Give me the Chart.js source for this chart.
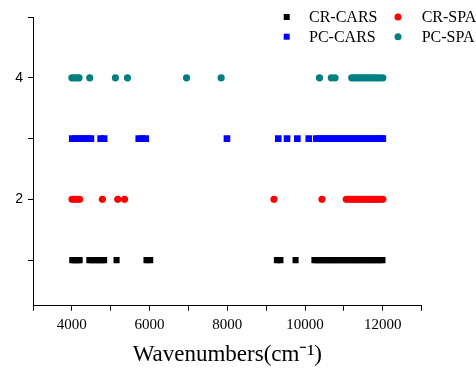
<!DOCTYPE html>
<html>
<head>
<meta charset="utf-8">
<script src="https://cdn.jsdelivr.net/npm/chart.js@4.4.1/dist/chart.umd.min.js"></script>
<style>
  html, body { margin:0; padding:0; background:#fff; }
  #wrap { width:476px; height:370px; position:relative; }
</style>
</head>
<body>
<div id="wrap"><canvas id="chart" width="476" height="370"></canvas></div>
<script>
// wavenumbers (cm-1) picked by each method
const crCars = [4010, 4080, 4150, 4200,
  4450, 4530, 4610, 4690, 4770, 4830,
  5150, 5920, 6015, 9275, 9365, 9755,
  10240, 10320, 10400, 10480, 10560, 10640, 10720, 10800, 10880, 10960,
  11040, 11120, 11200, 11280, 11360, 11440, 11520, 11600, 11680, 11760,
  11840, 11920, 11990];
const crSpa = [4005, 4070, 4140, 4200,
  4785, 5180, 5355, 9200, 10435,
  11060, 11140, 11200, 11260, 11320, 11380, 11440, 11500, 11560, 11620,
  11680, 11740, 11800, 11860, 11920, 12000];
const pcCars = [4010, 4090, 4170, 4250, 4330, 4410, 4490,
  4740, 4830, 5720, 5810, 5900, 7990, 9310, 9535, 9800, 10095,
  10290, 10370, 10450, 10530, 10610, 10690, 10770, 10850, 10930, 11010,
  11090, 11170, 11250, 11330, 11410, 11490, 11570, 11650, 11730, 11810,
  11890, 11960, 12000];
const pcSpa = [4000, 4060, 4120, 4185,
  4460, 5120, 5430, 6950, 7840, 10370, 10675, 10770,
  11200, 11260, 11320, 11380, 11440, 11500, 11560, 11620, 11680, 11740,
  11800, 11860, 11920, 12000];

const labels = ['CR-CARS', 'CR-SPA', 'PC-CARS', 'PC-SPA'];
const levels = [1, 2, 3, 4];
const colors = ['#000000', '#ff0000', '#0000ff', '#008080'];
const yTicks = [1, 2, 3, 4, 5];

const toPts = (arr, y) => arr.map(v => ({x: v, y: y}));

// legend drawn by hand so it can sit over the plot like the original
const legendPlugin = {
  id: 'cornerLegend',
  afterDraw(chart){
    const ctx = chart.ctx;
    const cols = [286.7, 398], txt = [309, 421.7], rows = [17, 36.7];
    ctx.save();
    ctx.font = '16px "Liberation Serif", "Times New Roman", serif';
    ctx.textBaseline = 'middle';
    ctx.fillStyle = '#000';
    chart.data.datasets.forEach((ds, i) => {
      const cx = cols[i % 2], cy = rows[Math.floor(i / 2)];
      ctx.fillStyle = ds.backgroundColor;
      ctx.beginPath();
      if (ds.pointStyle === 'rect') ctx.rect(cx - 3, cy - 3, 6, 6);
      else ctx.arc(cx, cy, 3.5, 0, Math.PI * 2);
      ctx.fill();
      ctx.fillStyle = '#000';
      ctx.fillText(ds.label, txt[i % 2], cy + 1);
    });
    ctx.restore();
  }
};

const series = [crCars, crSpa, pcCars, pcSpa];
const datasets = series.map((arr, i) => ({
  label: labels[i],
  data: toPts(arr, levels[i]),
  backgroundColor: colors[i],
  borderColor: colors[i],
  borderWidth: 0,
  pointStyle: i % 2 === 0 ? 'rect' : 'circle',
  pointRadius: i === 0 ? 4.3 : (i === 2 ? 4.7 : 3.6),
  pointHoverRadius: 4,
  showLine: false
}));

new Chart(document.getElementById('chart').getContext('2d'), {
  type: 'scatter',
  data: { datasets: datasets },
  options: {
    responsive: false, animation: false,
    layout: { padding: { left: 0, top: 17, right: 54.3, bottom: 0 } },
    plugins: { legend: { display: false }, tooltip: { enabled: false } },
    scales: {
      x: {
        type: 'linear', min: 3000, max: 13000, position: 'bottom',
        afterFit: s => { s.height = 64.3; },
        ticks: {
          stepSize: 1000, autoSkip: false, maxRotation: 0, padding: 5, color: '#000',
          font: { family: '"Liberation Serif", "Times New Roman", serif', size: 15 },
          callback: v => (v % 2000 === 0 ? String(v) : '')
        },
        grid: { drawOnChartArea: false, drawTicks: true, tickLength: 5, color: '#000' },
        border: { display: true, color: '#000', width: 1 },
        title: {
          display: true, text: 'Wavenumbers(cm⁻¹)', color: '#000',
          font: { family: '"Liberation Serif", "Times New Roman", serif', size: 23 },
          padding: { top: 0, bottom: 1 }
        }
      },
      y: {
        type: 'linear', min: 0.25, max: 5,
        afterFit: s => { s.width = 33; },
        afterBuildTicks: s => { s.ticks = yTicks.map(v => ({ value: v })); },
        ticks: {
          padding: 5, color: '#000',
          font: { family: '"Liberation Sans", Arial, sans-serif', size: 14 },
          callback: v => (v % 2 === 0 ? String(v) : '')
        },
        grid: { drawOnChartArea: false, drawTicks: true, tickLength: 5, color: '#000' },
        border: { display: true, color: '#000', width: 1 }
      }
    }
  },
  plugins: [legendPlugin]
});
</script>
</body>
</html>
